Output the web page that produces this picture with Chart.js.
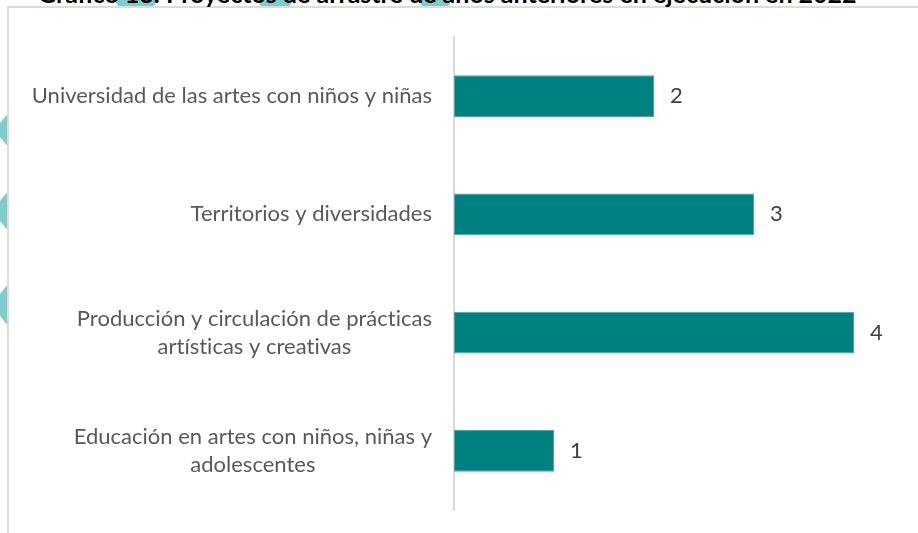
<!DOCTYPE html>
<html>
<head>
<meta charset="utf-8">
<script src="https://cdn.jsdelivr.net/npm/chart.js@4.4.1/dist/chart.umd.min.js"></script>
<style>
  html, body { margin: 0; padding: 0; background: #fff; }
  body { width: 918px; height: 533px; position: relative; overflow: hidden; font-family: Lato, "Open Sans", sans-serif; }
  .deco { position: absolute; left: 0; top: 0; width: 918px; height: 533px; background: #7fcccc; }
  .title { position: absolute; left: 38px; top: -22px; line-height: 30px; white-space: nowrap; font-weight: bold; font-size: 25px; color: #000; z-index: 3; }
  .card { position: absolute; left: 7px; top: 6px; width: 960px; height: 600px; background: #fff; border: 2px solid #dcdcdc; z-index: 2; }
  #wrap { position: absolute; left: 0; top: 0; width: 918px; height: 533px; z-index: 4; }
</style>
</head>
<body>
<div class="deco" style="clip-path: polygon(114px 0, 158px 0, 152px 8px, 120px 8px);"></div>
<div class="deco" style="clip-path: polygon(257px 0, 293px 0, 288px 8px, 262px 8px);"></div>
<div class="deco" style="clip-path: polygon(418px 0, 452px 0, 447px 8px, 423px 8px);"></div>
<div class="deco" style="clip-path: polygon(9px 112px, 0 123px, 0 137px, 9px 148px);"></div>
<div class="deco" style="clip-path: polygon(9px 190px, 0 201px, 0 221px, 9px 232px);"></div>
<div class="deco" style="clip-path: polygon(9px 283px, 0 294px, 0 316px, 9px 327px);"></div>
<div class="title">Gráfico 13. Proyectos de arrastre de años anteriores en ejecución en 2022</div>
<div class="card"></div>
<div id="wrap"><canvas id="chart"></canvas></div>

<script>
// Datos del gráfico
const categorias = [
  "Universidad de las artes con niños y niñas",
  "Territorios y diversidades",
  ["Producción y circulación de prácticas", "artísticas y creativas"],
  ["Educación en artes con niños, niñas y", "adolescentes"],
];
const proyectos = [2, 3, 4, 1];

const FONT = "Lato, 'Open Sans', sans-serif";

/**
 * Etiquetas de categoría: bloque alineado a la derecha, líneas centradas
 */
const categoryLabels = {
  id: "categoryLabels",
  afterDraw(chart) {
    const ctx = chart.ctx;
    const scale = chart.scales.y;
    const lineH = 28;
    ctx.save();
    ctx.fillStyle = "#595959";
    ctx.font = "22px " + FONT;
    ctx.letterSpacing = "0.01px"; // evita ligaduras (ti, fi)
    ctx.textAlign = "center";
    ctx.textBaseline = "middle";
    categorias.forEach((label, i) => {
      const lines = Array.isArray(label) ? label : [label];
      const maxW = Math.max(...lines.map((l) => ctx.measureText(l).width));
      const cx = scale.right - 22 - maxW / 2;
      const cy = scale.getPixelForTick(i);
      lines.forEach((line, j) => {
        const y = cy + (j - (lines.length - 1) / 2) * lineH;
        ctx.fillText(line, cx, y);
      });
    });
    ctx.restore();
  },
};

/**
 * Etiquetas de valor al final de cada barra
 */
const valueLabels = {
  id: "valueLabels",
  afterDatasetsDraw(chart) {
    const ctx = chart.ctx;
    const meta = chart.getDatasetMeta(0);
    ctx.save();
    ctx.fillStyle = "#404040";
    ctx.font = "22px " + FONT;
    ctx.textAlign = "left";
    ctx.textBaseline = "middle";
    meta.data.forEach((bar, i) => {
      ctx.fillText(String(proyectos[i]), bar.x + 16, bar.y);
    });
    ctx.restore();
  },
};

document.addEventListener("DOMContentLoaded", () => {
  const ctx = document.getElementById("chart");

  new Chart(ctx, {
    type: "bar",
    data: {
      labels: categorias,
      datasets: [
        {
          data: proyectos,
          backgroundColor: "#008080",
          borderColor: "#4aa8a8",
          borderWidth: 1,
          borderSkipped: false,
          barPercentage: 0.355,
          categoryPercentage: 1,
        },
      ],
    },
    options: {
      indexAxis: "y",
      responsive: true,
      maintainAspectRatio: false,
      animation: false,
      layout: {
        padding: { left: 0, right: 4, top: 37, bottom: 23 },
      },
      plugins: {
        legend: { display: false },
        tooltip: { enabled: false },
      },
      scales: {
        x: {
          display: false,
          min: 0,
          max: 4.6,
        },
        y: {
          afterFit(scale) {
            scale.width = 454;
            scale.paddingTop = 0;
            scale.paddingBottom = 0;
          },
          grid: { display: false, drawTicks: false },
          border: { display: true, color: "#d9d9d9", width: 2 },
          ticks: { display: false },
        },
      },
    },
    plugins: [categoryLabels, valueLabels],
  });
});
</script>
</body>
</html>
